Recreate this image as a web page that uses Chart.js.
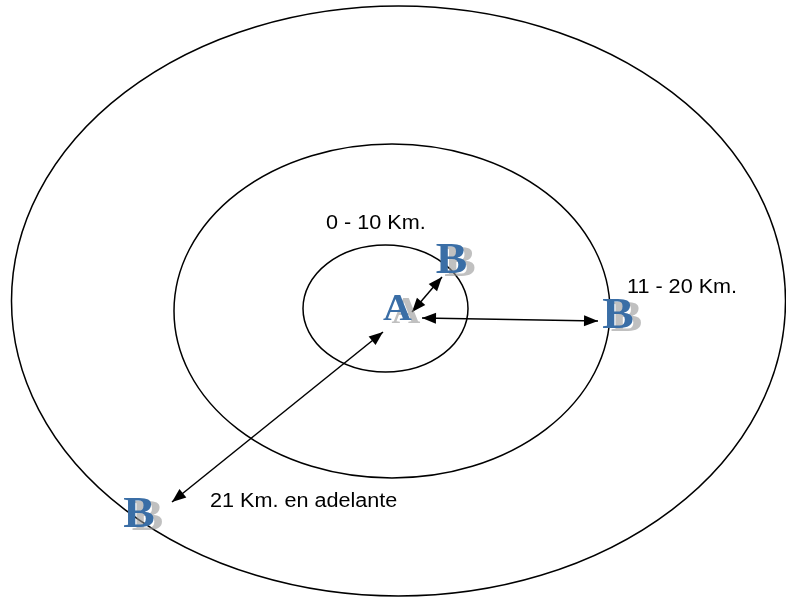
<!DOCTYPE html>
<html>
<head>
<meta charset="utf-8">
<script src="https://cdn.jsdelivr.net/npm/chart.js@4"></script>
<style>
  html, body { margin: 0; padding: 0; background: #fff; }
  #wrap { width: 786px; height: 598px; }
</style>
</head>
<body>
<div id="wrap"><canvas id="myChart" width="786" height="598"></canvas></div>
<script>
// distance rings (diagram units)
const ringLabels = ['0 - 10 Km.', '11 - 20 Km.', '21 Km. en adelante'];
const ringCenterX = [385.5, 392, 398.5];
const ringCenterY = [308.5, 311, 301];
const ringRadiusX = [82.5, 218, 387];
const ringRadiusY = [63.5, 167, 295];
const ringLabelX = [326, 627, 210];
const ringLabelY = [229, 293, 507];

// places A and B
const placeNames = ['A', 'B', 'B', 'B'];
const placeX = [397.5, 451.5, 618, 139];
const placeY = [320, 273, 328, 527];

// double arrows A <-> B
const arrowFromX = [412, 422, 383];
const arrowFromY = [312, 318, 332];
const arrowToX = [442, 598, 172];
const arrowToY = [277, 321, 502];

const datasets = arrowFromX.map((fx, i) => ({
  label: 'arrow ' + (i + 1),
  data: [{ x: fx, y: arrowFromY[i] }, { x: arrowToX[i], y: arrowToY[i] }],
  showLine: true,
  borderColor: '#000',
  borderWidth: 1.5,
  pointRadius: 0,
  pointHoverRadius: 0
}));

function arrowHead(ctx, x1, y1, x2, y2) {
  const a = Math.atan2(y2 - y1, x2 - x1);
  const len = 14, half = 5.5;
  ctx.beginPath();
  ctx.moveTo(x2, y2);
  ctx.lineTo(x2 - len * Math.cos(a) + half * Math.sin(a), y2 - len * Math.sin(a) - half * Math.cos(a));
  ctx.lineTo(x2 - len * Math.cos(a) - half * Math.sin(a), y2 - len * Math.sin(a) + half * Math.cos(a));
  ctx.closePath();
  ctx.fill();
}

const diagramPlugin = {
  id: 'diagram',
  beforeDatasetsDraw(chart) {
    const { ctx, scales: { x, y } } = chart;
    ctx.save();
    ctx.strokeStyle = '#000';
    ctx.lineWidth = 1.5;
    ringCenterX.forEach((cx, i) => {
      const px = x.getPixelForValue(cx);
      const py = y.getPixelForValue(ringCenterY[i]);
      const rx = Math.abs(x.getPixelForValue(cx + ringRadiusX[i]) - px);
      const ry = Math.abs(y.getPixelForValue(ringCenterY[i] + ringRadiusY[i]) - py);
      ctx.beginPath();
      ctx.ellipse(px, py, rx, ry, 0, 0, Math.PI * 2);
      ctx.stroke();
    });
    ctx.restore();
  },
  afterDatasetsDraw(chart) {
    const { ctx, scales: { x, y } } = chart;
    ctx.save();
    // arrow heads
    ctx.fillStyle = '#000';
    arrowFromX.forEach((fx, i) => {
      const x1 = x.getPixelForValue(fx), y1 = y.getPixelForValue(arrowFromY[i]);
      const x2 = x.getPixelForValue(arrowToX[i]), y2 = y.getPixelForValue(arrowToY[i]);
      arrowHead(ctx, x1, y1, x2, y2);
      arrowHead(ctx, x2, y2, x1, y1);
    });
    // ring labels
    ctx.font = '20px "Liberation Sans", Arial, sans-serif';
    ctx.textAlign = 'left';
    ctx.textBaseline = 'alphabetic';
    ringLabels.forEach((t, i) => {
      ctx.save();
      ctx.translate(x.getPixelForValue(ringLabelX[i]), y.getPixelForValue(ringLabelY[i]));
      ctx.scale(1.08, 1);
      ctx.fillText(t, 0, 0);
      ctx.restore();
    });
    // letters with soft shadow
    ctx.textAlign = 'center';
    placeNames.forEach((t, i) => {
      const px = x.getPixelForValue(placeX[i]);
      const py = y.getPixelForValue(placeY[i]);
      ctx.font = 'bold ' + (t === 'A' ? '38px' : '45px') + ' "Liberation Serif", "Times New Roman", serif';
      ctx.save();
      ctx.translate(px, py);
      ctx.scale(1.05, 1);
      ctx.fillStyle = 'rgba(150,150,150,0.6)';
      ctx.fillText(t, 8, 3);
      ctx.fillStyle = '#3a6ea6';
      ctx.fillText(t, 0, 0);
      ctx.restore();
    });
    ctx.restore();
  }
};

new Chart(document.getElementById('myChart'), {
  type: 'scatter',
  data: { datasets },
  options: {
    responsive: false,
    devicePixelRatio: 1,
    animation: false,
    layout: { padding: 0 },
    plugins: { legend: { display: false }, tooltip: { enabled: false } },
    scales: {
      x: { type: 'linear', min: 0, max: 786, display: false },
      y: { type: 'linear', min: 0, max: 598, reverse: true, display: false }
    }
  },
  plugins: [diagramPlugin]
});
</script>
</body>
</html>
